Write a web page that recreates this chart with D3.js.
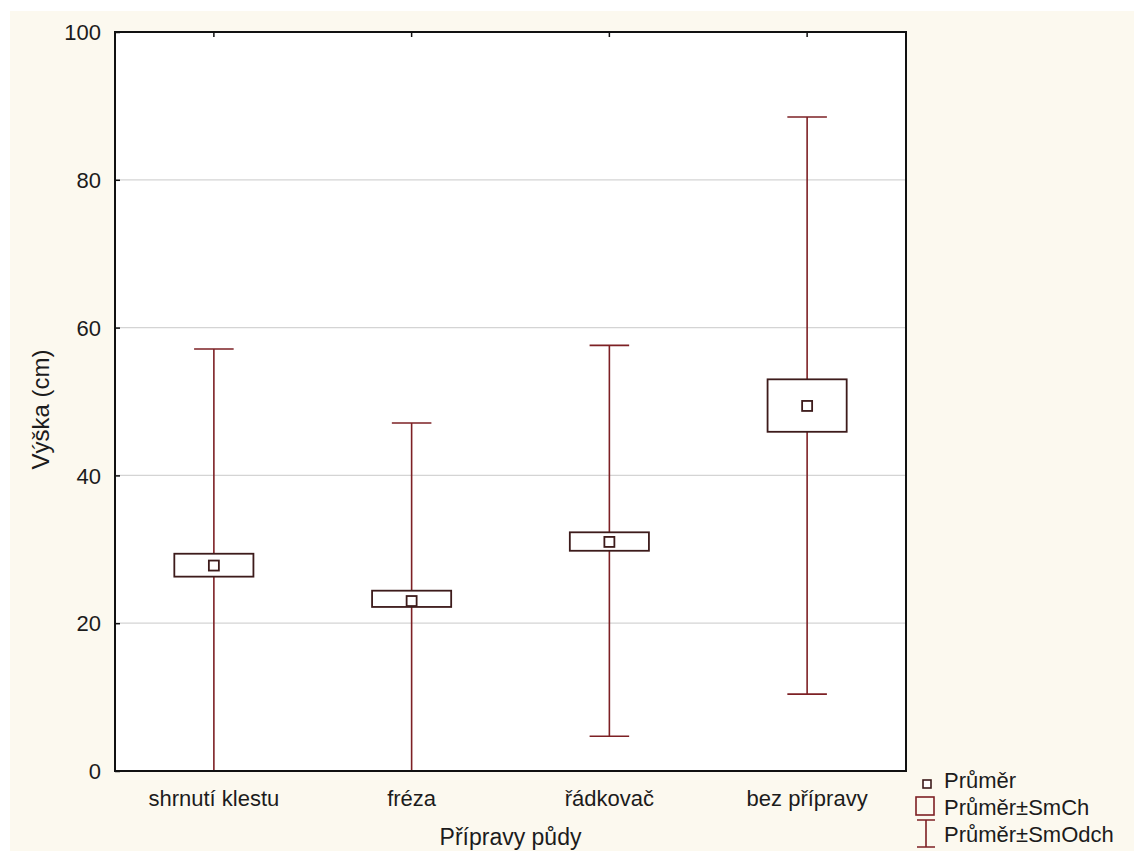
<!DOCTYPE html>
<html>
<head>
<meta charset="utf-8">
<script src="https://cdn.jsdelivr.net/npm/d3@7"></script>
<style>
  body { margin: 0; background: #fff; }
  svg text { font-family: "Liberation Sans", Arial, sans-serif; fill: #1c1c1c; }
</style>
</head>
<body>
<svg id="chart" width="1134" height="851"></svg>
<script>
// data
var categories = ["shrnutí klestu", "fréza", "řádkovač", "bez přípravy"];
var means  = [27.8, 23.0, 31.0, 49.4];
var seLow  = [26.3, 22.2, 29.8, 45.9];   // Průměr - SmCh
var seHigh = [29.4, 24.4, 32.3, 53.0];   // Průměr + SmCh
var sdLow  = [-1.5, -1.1, 4.7, 10.4];    // Průměr - SmOdch
var sdHigh = [57.1, 47.1, 57.6, 88.5];   // Průměr + SmOdch
var yTicks = [0, 20, 40, 60, 80, 100];
var legendItems = ["Průměr", "Průměr±SmCh", "Průměr±SmOdch"];

var rows = categories.map(function(c, i) {
  return {cat: c, mean: means[i], seLo: seLow[i], seHi: seHigh[i], sdLo: sdLow[i], sdHi: sdHigh[i]};
});

var svg = d3.select("#chart");
var margin = {top: 32, right: 228, bottom: 80, left: 115};
var width = 1134 - margin.left - margin.right,
    height = 851 - margin.top - margin.bottom;

var whiskerCol = "#7d2024", boxCol = "#3d1b1b";

// cream page background
svg.append("rect")
  .attr("x", 10).attr("y", 11).attr("width", 1124).attr("height", 840)
  .attr("fill", "#fcf9ef");

var g = svg.append("g").attr("transform", "translate(" + margin.left + "," + margin.top + ")");

var x = d3.scaleBand().domain(categories).range([0, width]);
var y = d3.scaleLinear().domain([0, 100]).range([height, 0]);

g.append("rect").attr("width", width).attr("height", height).attr("fill", "#fff");

svg.append("clipPath").attr("id", "plotclip")
  .append("rect").attr("x", 0).attr("y", 0).attr("width", width).attr("height", height);

// gridlines
g.append("g").selectAll("line")
  .data(yTicks.filter(function(d) { return d > 0 && d < 100; }))
  .enter().append("line")
  .attr("x1", 0).attr("x2", width)
  .attr("y1", function(d) { return y(d); }).attr("y2", function(d) { return y(d); })
  .attr("stroke", "#d4d4d4").attr("stroke-width", 1.3);

var boxW = x.bandwidth() * 0.4, capW = boxW / 2, meanS = 10;
var marks = g.append("g").attr("clip-path", "url(#plotclip)");

var cat = marks.selectAll("g.cat").data(rows).enter().append("g")
  .attr("class", "cat")
  .attr("transform", function(d) { return "translate(" + (x(d.cat) + x.bandwidth() / 2) + ",0)"; });

// whiskers (SD)
cat.append("line")
  .attr("x1", 0).attr("x2", 0)
  .attr("y1", function(d) { return y(d.sdHi); })
  .attr("y2", function(d) { return y(d.sdLo); })
  .attr("stroke", whiskerCol).attr("stroke-width", 1.6);
cat.append("line")
  .attr("x1", -capW / 2).attr("x2", capW / 2)
  .attr("y1", function(d) { return y(d.sdHi); })
  .attr("y2", function(d) { return y(d.sdHi); })
  .attr("stroke", whiskerCol).attr("stroke-width", 1.6);
cat.append("line")
  .attr("x1", -capW / 2).attr("x2", capW / 2)
  .attr("y1", function(d) { return y(d.sdLo); })
  .attr("y2", function(d) { return y(d.sdLo); })
  .attr("stroke", whiskerCol).attr("stroke-width", 1.6);

// SE boxes
cat.append("rect")
  .attr("x", -boxW / 2).attr("width", boxW)
  .attr("y", function(d) { return y(d.seHi); })
  .attr("height", function(d) { return y(d.seLo) - y(d.seHi); })
  .attr("fill", "#fff").attr("stroke", boxCol).attr("stroke-width", 1.8);

// mean markers
cat.append("rect")
  .attr("x", -meanS / 2).attr("width", meanS)
  .attr("y", function(d) { return y(d.mean) - meanS / 2; })
  .attr("height", meanS)
  .attr("fill", "#fff").attr("stroke", boxCol).attr("stroke-width", 1.8);

// frame
g.append("rect").attr("width", width).attr("height", height)
  .attr("fill", "none").attr("stroke", "#111").attr("stroke-width", 2);

// y axis: inward ticks
var yAxis = g.append("g").call(d3.axisLeft(y).tickValues(yTicks).tickSizeInner(-5).tickSizeOuter(0).tickPadding(14));
yAxis.select(".domain").remove();
yAxis.selectAll("line").attr("stroke", "#111").attr("stroke-width", 1.5);
yAxis.selectAll("text").attr("font-size", 22).attr("fill", "#1c1c1c").attr("font-family", "Liberation Sans, Arial, sans-serif")
  .attr("dy", "0.35em");

// x axis: labels below, inward ticks on top edge
var xAxis = g.append("g").attr("transform", "translate(0," + height + ")")
  .call(d3.axisBottom(x).tickSize(0).tickPadding(19));
xAxis.select(".domain").remove();
xAxis.selectAll("text").attr("font-size", 22).attr("fill", "#1c1c1c").attr("font-family", "Liberation Sans, Arial, sans-serif");

var topAxis = g.append("g").call(d3.axisTop(x).tickSizeInner(-5).tickSizeOuter(0).tickFormat(""));
topAxis.select(".domain").remove();
topAxis.selectAll("line").attr("stroke", "#111").attr("stroke-width", 1.5);

// axis titles
svg.append("text")
  .attr("transform", "translate(49," + (margin.top + height / 2 + 8) + ") rotate(-90)")
  .attr("text-anchor", "middle").attr("font-size", 24)
  .text("Výška (cm)");
svg.append("text")
  .attr("x", margin.left + width / 2).attr("y", 845)
  .attr("text-anchor", "middle").attr("font-size", 23)
  .text("Přípravy půdy");

// legend
var leg = svg.append("g").attr("transform", "translate(926,0)");
var legBase = [788, 815, 842];
leg.append("rect").attr("x", -3).attr("y", 780).attr("width", 8).attr("height", 8)
  .attr("fill", "#fff").attr("stroke", boxCol).attr("stroke-width", 1.6);
leg.append("rect").attr("x", -10).attr("y", 797).attr("width", 18).attr("height", 18)
  .attr("fill", "none").attr("stroke", whiskerCol).attr("stroke-width", 1.6);
leg.append("path")
  .attr("d", "M-9,820H9M0,820V847M-9,847H9")
  .attr("fill", "none").attr("stroke", whiskerCol).attr("stroke-width", 1.6);
leg.selectAll("text.lt").data(legendItems).enter().append("text")
  .attr("class", "lt")
  .attr("x", 18).attr("y", function(d, i) { return legBase[i]; })
  .attr("font-size", 22)
  .text(function(d) { return d; });
</script>
</body>
</html>
